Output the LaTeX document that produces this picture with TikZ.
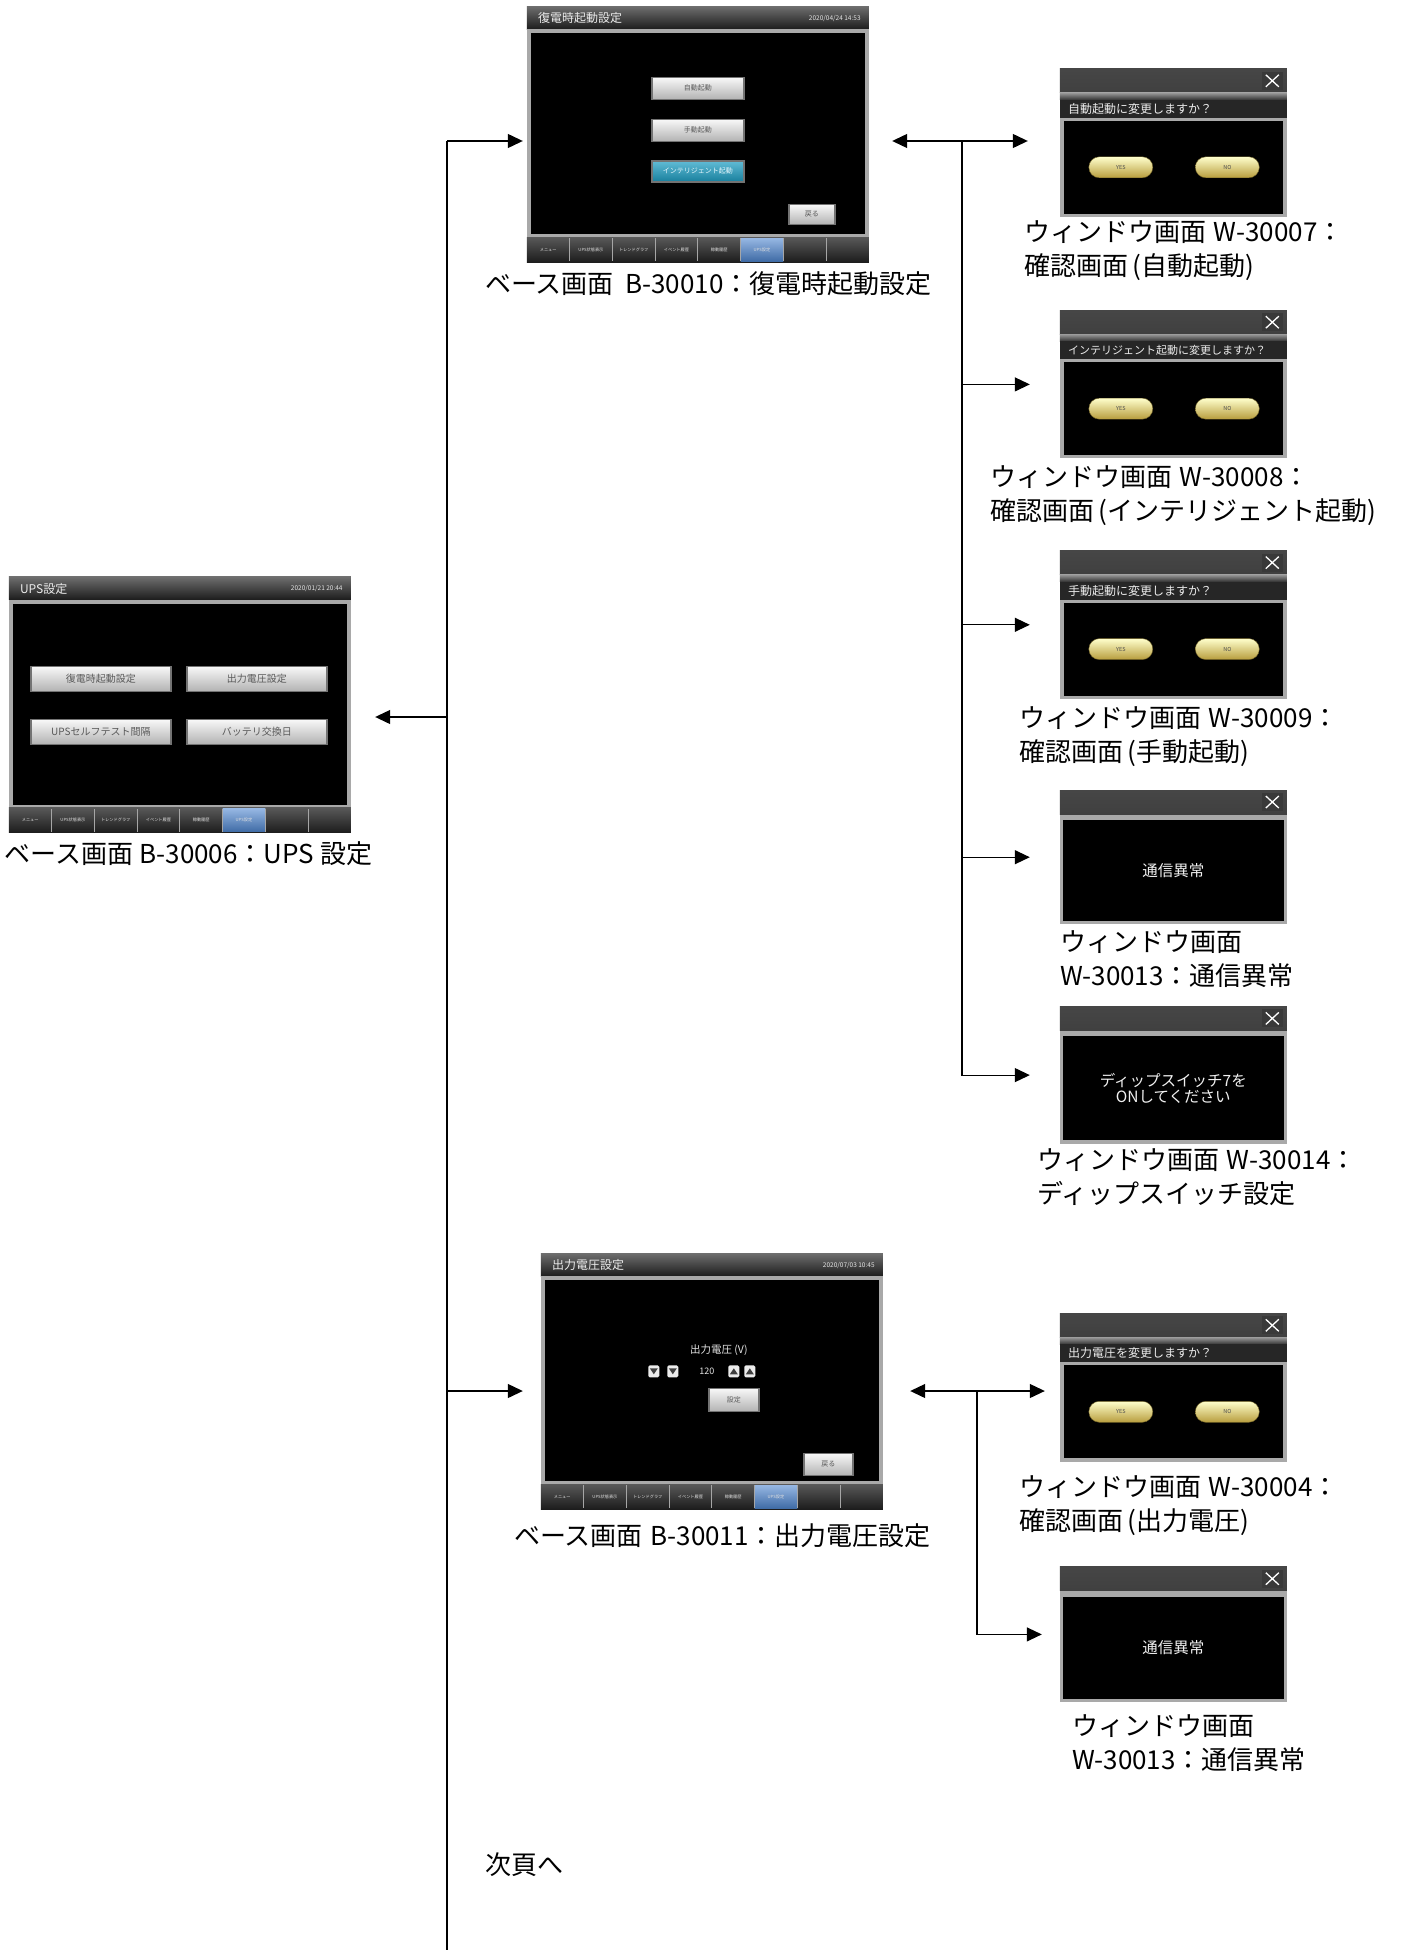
\documentclass[tikz,border=0pt]{standalone}
\usepackage{fontspec}
\setmainfont{Noto Sans CJK JP}
\usetikzlibrary{positioning,arrows.meta}

\definecolor{bezel}{HTML}{262626}
\definecolor{rim}{HTML}{A9A9A9}
\definecolor{barTop}{HTML}{6E6E6E}
\definecolor{barBot}{HTML}{1C1C1C}
\definecolor{tabblue}{HTML}{4F86CF}
\definecolor{gold}{HTML}{D8B948}
\definecolor{cyanbtn}{HTML}{1E9FC4}

% title bar, rim and tab row of a 342x256 base screen
\newcommand\basechrome[3]{%
  \begin{scope}[shift={(#1.north west)}]
    \fill[top color=barTop, bottom color=barBot] (0,0) rectangle (342,23);
    \node[scrtitle, anchor=west] (#1-title) at (11,12) {#2};
    \node[scrdate, anchor=east] (#1-date) at (334,12) {#3};
    \fill[rim] (0,23) rectangle (342,231);
    \fill[black] (4,27) rectangle (338,228);
    \fill[top color=barTop!80!black, bottom color=barBot] (0,231) rectangle (342,256);
    \fill[top color=tabblue!60!white, bottom color=tabblue!80!black] (213.75,232) rectangle (256.5,255);
    \foreach \i in {1,...,7}
      \draw[gray!70, line width=0.8pt] (42.75*\i,232) -- (42.75*\i,255);
    \foreach \t [count=\i from 0] in {メニュー,UPS状態表示,トレンドグラフ,イベント履歴,稼動履歴,UPS設定}
      \node[tablbl] (#1-tab\i) at (21.4+42.75*\i,243.5) {\t};
  \end{scope}}

% grey top bar with the close box of a pop-up window
\newcommand\winbar[1]{%
  \begin{scope}[shift={(#1.north west)}]
    \fill[top color=gray!55!black, bottom color=black!75] (0,0) rectangle (227,24);
    \fill[gray!45!black] (202,3) rectangle (223,21);
    \draw[white, line width=1.3pt] (206,6) -- (219,18) (219,6) -- (206,18);
  \end{scope}}

% confirmation window: question strip and YES / NO buttons
\newcommand\askwin[2]{%
  \winbar{#1}
  \begin{scope}[shift={(#1.north west)}]
    \fill[top color=gray!80, bottom color=gray!40!black] (0,24) rectangle (227,31);
    \fill[black!85] (0,31) rectangle (227,49);
    \node[ask, anchor=west] (#1-ask) at (8,40) {#2};
    \fill[rim] (0,49) rectangle (227,148);
    \fill[black] (4,52) rectangle (223,145);
    \node[pill] (#1-yes) at (61,98.5) {YES};
    \node[pill] (#1-no) at (167.5,98.5) {NO};
  \end{scope}}

% message window, #2 = its height
\newcommand\msgwin[3]{%
  \winbar{#1}
  \begin{scope}[shift={(#1.north west)}]
    \fill[rim] (0,27) rectangle (227,#2);
    \fill[black] (3,30) rectangle (224,#2-3);
    \node[msg] (#1-msg) at (113.5,{(27+#2)/2}) {#3};
  \end{scope}}

\begin{document}
\begin{tikzpicture}[
    x=1pt, y=-1pt,
    >={Triangle[length=15pt,width=14pt]},
    line/.style={->, line width=1.2pt},
    trunk/.style={line width=1.2pt},
    basescr/.style={fill=bezel, inner sep=0pt, minimum width=342pt, minimum height=256pt},
    win/.style={fill=rim, inner sep=0pt, minimum width=227pt},
    scrcap/.style={font=\fontsize{26}{34}\selectfont, align=left, inner sep=0pt, anchor=north west},
    scrtitle/.style={font=\fontsize{12}{13}\selectfont, text=white!85!gray, inner sep=0pt},
    scrdate/.style={font=\fontsize{6.5}{7}\selectfont, text=white!80!gray, inner sep=0pt},
    tablbl/.style={font=\fontsize{4.2}{5}\selectfont, text=white!75!gray, inner sep=0pt},
    btn/.style={draw=black!55, line width=1.5pt, top color=white!95!gray, bottom color=gray!60,
        inner sep=0pt, text=black!65, font=\fontsize{7}{8}\selectfont},
    ask/.style={font=\fontsize{12}{13}\selectfont, text=white!85!gray, inner sep=0pt},
    pill/.style={rounded corners=10.5pt, top color=yellow!20!white, bottom color=gold!85!black,
        draw=gold!50!black, minimum width=64pt, minimum height=21pt, inner sep=0pt,
        text=black!70, font=\fontsize{5.5}{6}\selectfont},
    msg/.style={font=\fontsize{15.5}{16}\selectfont, text=white!88!gray, align=center, inner sep=0pt},
    spin/.style={fill=gray!15, rounded corners=1.5pt, minimum width=11pt, minimum height=12pt, inner sep=0pt}
]
\useasboundingbox (0,0) rectangle (1402,1950);

% Base screens
\node[basescr] (b30010) at (698,134.5) {};
\node[basescr] (b30006) at (180,705) {};
\node[basescr] (b30011) at (712,1381.5) {};

\basechrome{b30010}{復電時起動設定}{2020/04/24 14:53}
\basechrome{b30006}{UPS設定}{2020/01/21 20:44}
\basechrome{b30011}{出力電圧設定}{2020/07/03 10:45}

\begin{scope}[shift={(b30010.north west)}]
  \node[btn, minimum width=92pt, minimum height=22pt] (b10auto) at (171,82) {自動起動};
  \node[btn, minimum width=92pt, minimum height=22pt] (b10man) at (171,124) {手動起動};
  \node[btn, minimum width=92pt, minimum height=21pt, top color=cyanbtn!70!white,
        bottom color=cyanbtn!80!black, text=white!90!cyan] (b10intel) at (171,165) {インテリジェント起動};
  \node[btn, minimum width=46pt, minimum height=20pt] (b10back) at (285,208) {戻る};
\end{scope}

\begin{scope}[shift={(b30006.north west)}, btn/.append style={minimum width=140pt,
      minimum height=25pt, font=\fontsize{10}{11}\selectfont}]
  \node[btn] (b06rest) at (92,102) {復電時起動設定};
  \node[btn] (b06volt) at (248,102) {出力電圧設定};
  \node[btn] (b06test) at (92,155) {UPSセルフテスト間隔};
  \node[btn] (b06batt) at (248,155) {バッテリ交換日};
\end{scope}

\begin{scope}[shift={(b30011.north west)}]
  \node[font=\fontsize{10.5}{11}\selectfont, text=white!80!gray, inner sep=0pt] (b11lbl) at (178,97) {出力電圧 (V)};
  \node[spin] (b11dd) at (113,118) {};
  \node[spin] (b11d) at (132,118) {};
  \node[font=\fontsize{9}{10}\selectfont, text=white!80!gray, inner sep=0pt] (b11val) at (166,118) {120};
  \node[spin] (b11u) at (193,118) {};
  \node[spin] (b11uu) at (209,118) {};
  \fill[black!75] (109,115) -- (117,115) -- (113,121) -- cycle;
  \fill[black!75] (128,115) -- (136,115) -- (132,121) -- cycle;
  \fill[black!75] (189,121) -- (197,121) -- (193,115) -- cycle;
  \fill[black!75] (205,121) -- (213,121) -- (209,115) -- cycle;
  \node[btn, minimum width=50pt, minimum height=23pt] (b11set) at (193,146.5) {設定};
  \node[btn, minimum width=49pt, minimum height=22pt] (b11back) at (287.5,211) {戻る};
\end{scope}

\node[scrcap, below=9pt of b30010.south west, anchor=north west, xshift=-42pt] (cap30010)
  {ベース画面\hspace{0.45em}B-30010：復電時起動設定};
\node[scrcap, below=8pt of b30006.south west, anchor=north west, xshift=-4pt] (cap30006)
  {ベース画面 B-30006：UPS 設定};
\node[scrcap, below=14pt of b30011.south west, anchor=north west, xshift=-27pt] (cap30011)
  {ベース画面\hspace{0.3em}B-30011：出力電圧設定};

% Windows of B-30010
\node[win, minimum height=148pt] (w30007) at (1173.5,143) {};
\node[win, minimum height=148pt, below=93pt of w30007] (w30008) {};
\node[win, minimum height=148pt, below=92pt of w30008] (w30009) {};
\node[win, minimum height=134pt, below=91pt of w30009] (w30013) {};
\node[win, minimum height=137pt, below=82pt of w30013] (w30014) {};

\askwin{w30007}{自動起動に変更しますか？}
\askwin{w30008}{\fontsize{11}{12}\selectfont インテリジェント起動に変更しますか？}
\askwin{w30009}{手動起動に変更しますか？}
\msgwin{w30013}{134}{通信異常}
\msgwin{w30014}{137}{ディップスイッチ7を\\ONしてください}

\node[scrcap, below=3pt of w30007.south west, anchor=north west, xshift=-36pt] (cap30007)
  {ウィンドウ画面\hspace{0.3em}W-30007：\\確認画面\,(自動起動)};
\node[scrcap, below=7pt of w30008.south west, anchor=north west, xshift=-70pt] (cap30008)
  {ウィンドウ画面\hspace{0.3em}W-30008：\\確認画面\,(インテリジェント起動)};
\node[scrcap, below=7pt of w30009.south west, anchor=north west, xshift=-41pt] (cap30009)
  {ウィンドウ画面\hspace{0.3em}W-30009：\\確認画面\,(手動起動)};
\node[scrcap, below=6pt of w30013.south west, anchor=north west] (cap30013)
  {ウィンドウ画面\\W-30013：通信異常};
\node[scrcap, below=5pt of w30014.south west, anchor=north west, xshift=-23pt] (cap30014)
  {ウィンドウ画面\hspace{0.3em}W-30014：\\ディップスイッチ設定};

% Windows of B-30011
\node[win, minimum height=148pt] (w30004) at (1173.5,1387.5) {};
\node[win, minimum height=135pt, below=105pt of w30004] (w30013b) {};

\askwin{w30004}{出力電圧を変更しますか？}
\msgwin{w30013b}{135}{通信異常}

\node[scrcap, below=14pt of w30004.south west, anchor=north west, xshift=-41pt] (cap30004)
  {ウィンドウ画面\hspace{0.3em}W-30004：\\確認画面\,(出力電圧)};
\node[scrcap, below=12pt of w30013b.south west, anchor=north west, xshift=12pt] (cap30013b)
  {ウィンドウ画面\\W-30013：通信異常};

% Trunk from the UPS settings screen
\coordinate (trtop) at (447,141);
\coordinate (trbot) at (447,1950);
\coordinate (tr30006) at (447,717);
\coordinate (tr30011) at (447,1391);
\draw[trunk] (trtop) -- (trbot);
\draw[line, shorten >=4pt] (trtop) -- (b30010.west |- trtop);
\draw[line, shorten >=24pt] (tr30006) -- (b30006.east |- tr30006);
\draw[line, shorten >=18pt] (tr30011) -- (b30011.west |- tr30011);

\node[scrcap, anchor=west] (nextpg) at (485,1865) {次頁へ};

% Branch of B-30010
\coordinate (br30010) at (962,141);
\draw[line, shorten >=23pt] (br30010) -- (b30010.east |- br30010);
\draw[line, shorten >=32pt] (br30010) -- (w30007.west |- br30010);
\draw[line, shorten >=30pt] (br30010) |- (w30008.west);
\draw[line, shorten >=30pt] (br30010) |- (w30009.west);
\draw[line, shorten >=30pt] (br30010) |- (w30013.west);
\draw[line, shorten >=30pt] (br30010) |- (w30014.west);

% Branch of B-30011
\coordinate (br30011) at (977,1391);
\draw[line, shorten >=27pt] (br30011) -- (b30011.east |- br30011);
\draw[line, shorten >=15pt] (br30011) -- (w30004.west |- br30011);
\draw[line, shorten >=18pt] (br30011) |- (w30013b.west);

\end{tikzpicture}
\end{document}
